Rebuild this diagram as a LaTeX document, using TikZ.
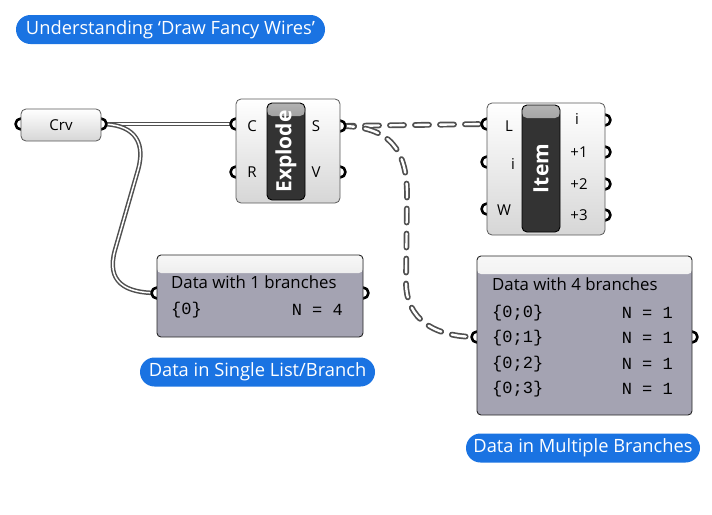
\documentclass[tikz,border=0pt]{standalone}
\usepackage{fontspec}
\setmainfont{Open Sans}
\newfontfamily\monofont{Liberation Mono}
\newcommand{\fs}[1]{\fontsize{#1}{#1}\selectfont}
\newcommand{\mono}[1]{{\monofont\fs{17}#1}}
\usetikzlibrary{backgrounds}

\definecolor{ghblue}{RGB}{26,115,226}
\definecolor{wiregray}{RGB}{80,80,80}
\definecolor{panelfill}{RGB}{164,163,178}

\begin{document}
\begin{tikzpicture}[x=1pt,y=-1pt
  ,font=\fs{16.8}
  ,line join=round]
  \tikzstyle{pill}=[fill=ghblue,text=white,rounded corners=14.5pt,minimum height=29pt,inner sep=0pt,font=\fs{18.3}]
  \tikzstyle{port}=[circle,draw=black,fill=white,line width=2.6pt,minimum size=11pt,inner sep=0pt]
  \tikzstyle{comp}=[draw=black!65,line width=0.8pt,rounded corners=5pt,top color=white,bottom color=black!16,inner sep=0pt]
  \tikzstyle{bar}=[draw=black,line width=0.9pt,rounded corners=5pt,fill=black!80,inner sep=0pt,text=white,font=\fs{21}\bfseries
    ,path picture={\fill[top color=black!30,bottom color=black!78] (path picture bounding box.north west) rectangle ([yshift=-13pt]path picture bounding box.north east);}]
  \tikzstyle{panelbox}=[draw=black!85,line width=0.9pt,rounded corners=4pt,fill=panelfill,inner sep=0pt
    ,path picture={\fill[top color=black!3,bottom color=black!20] (path picture bounding box.north west) rectangle ([yshift=-18pt]path picture bounding box.north east);}]
  \tikzstyle{lbl}=[inner sep=0pt,font=\fs{15}]
  \tikzstyle{itemwire}=[draw=wiregray,line width=1.5pt,double=white,double distance=1.5pt]
  \tikzstyle{treewire}=[draw=wiregray,line width=1.7pt,double=white,double distance=2.4pt,line cap=round,dash pattern=on 14pt off 11pt]

  \useasboundingbox (0,0) rectangle (712,514);

  \node[pill,minimum width=309pt] (title) at (170.5,29.5) {Understanding ‘Draw Fancy Wires’};

  \node[port] (crvi) at (21,124) {};
  \node[port] (crvo) at (101,124) {};
  \node[comp,minimum width=80pt,minimum height=32pt] (crv) at (61,125) {\fs{15}Crv};

  \node[port] (C) at (236,124) {};
  \node[port] (R) at (236,172) {};
  \node[port] (S) at (340,126) {};
  \node[port] (V) at (340,172) {};
  \node[comp,minimum width=104pt,minimum height=104pt] (ex) at (288,151) {};
  \node[bar,minimum width=38pt,minimum height=97pt] (exbar) at (286,151.5) {\rotatebox{90}{Explode}};
  \node[lbl] (lC) at (252,126) {C};
  \node[lbl] (lR) at (252,172) {R};
  \node[lbl] (lS) at (316,126) {S};
  \node[lbl] (lV) at (316,172) {V};

  \node[port] (L) at (487,124) {};
  \node[port] (i) at (487,162) {};
  \node[port] (W) at (487,209) {};
  \node[port] (oi) at (605,120) {};
  \node[port] (o1) at (605,152) {};
  \node[port] (o2) at (605,184) {};
  \node[port] (o3) at (605,215) {};
  \node[comp,minimum width=118pt,minimum height=132pt] (it) at (546,169) {};
  \node[bar,minimum width=38pt,minimum height=127pt] (itbar) at (541,168.5) {\rotatebox{90}{Item}};
  \node[lbl] (lL) at (509,126) {L};
  \node[lbl] (li) at (513,164) {i};
  \node[lbl] (lW) at (504,210) {W};
  \node[lbl] (loi) at (577,119) {i};
  \node[lbl] (lo1) at (579,152) {+1};
  \node[lbl] (lo2) at (579,184) {+2};
  \node[lbl] (lo3) at (579,215) {+3};

  \node[port] (pai) at (157,293) {};
  \node[port] (pao) at (363,293) {};
  \node[panelbox,minimum width=206pt,minimum height=82pt] (pa) at (260,296) {};
  \node[anchor=west,inner sep=0pt] (pat) at (171,282) {Data with 1 branches};
  \node[anchor=west,inner sep=0pt] (pa0) at (171,310) {\mono{\{0\}}};
  \node[anchor=east,inner sep=0pt] (pan) at (343,310) {\mono{N = 4}};

  \node[port] (pbi) at (477,337) {};
  \node[port] (pbo) at (692,337) {};
  \node[panelbox,minimum width=215pt,minimum height=159pt] (pb) at (584.5,335.5) {};
  \node[anchor=west,inner sep=0pt] (pbt) at (492,284) {Data with 4 branches};
  \node[anchor=west,inner sep=0pt] (pb0) at (492,313) {\mono{\{0;0\}}};
  \node[anchor=west,inner sep=0pt] (pb1) at (492,338) {\mono{\{0;1\}}};
  \node[anchor=west,inner sep=0pt] (pb2) at (492,364) {\mono{\{0;2\}}};
  \node[anchor=west,inner sep=0pt] (pb3) at (492,389) {\mono{\{0;3\}}};
  \node[anchor=east,inner sep=0pt] (pbn0) at (673,313) {\mono{N = 1}};
  \node[anchor=east,inner sep=0pt] (pbn1) at (673,338) {\mono{N = 1}};
  \node[anchor=east,inner sep=0pt] (pbn2) at (673,364) {\mono{N = 1}};
  \node[anchor=east,inner sep=0pt] (pbn3) at (673,389) {\mono{N = 1}};

  \node[pill,minimum width=235pt] (single) at (257.5,372) {Data in Single List/Branch};
  \node[pill,minimum width=234pt] (multi) at (583,448) {Data in Multiple Branches};

  \begin{scope}[on background layer]
  \path
  (crvo.center) edge [itemwire] (C.center)
  (S.center)    edge [treewire] (L.center)
  ;
  \draw[itemwire] (crvo.center) .. controls (130,124) and (147,138) .. (138,170)
    -- (115,250) .. controls (106,282) and (125,293) .. (pai.center);
  \draw[treewire] (S.center) .. controls (390,126) and (407,150) .. (407,195)
    -- (406,282) .. controls (406,320) and (435,337) .. (pbi.center);
  \end{scope}

\end{tikzpicture}
\end{document}
